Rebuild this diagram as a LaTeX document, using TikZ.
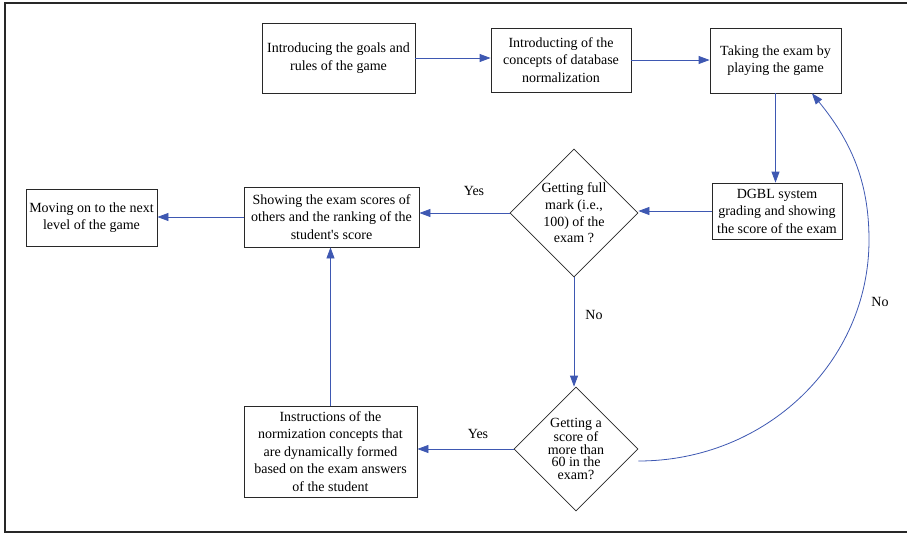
\documentclass[tikz,border=0pt]{standalone}
\usepackage{fontspec}
\setmainfont{Liberation Serif}
\usetikzlibrary{shapes.geometric,arrows.meta,calc}
\definecolor{flowblue}{RGB}{62,88,178}
\definecolor{boxgray}{RGB}{40,40,40}
\begin{document}
\begin{tikzpicture}[x=1pt,y=-1pt,
  every node/.style={font=\fontsize{14}{17.5}\selectfont},
  stepbox/.style={draw=boxgray,line width=0.8pt,inner sep=0pt,align=center,fill=white},
  decision/.style={draw=boxgray,line width=0.8pt,diamond,aspect=1,inner sep=0pt,align=center},
  flow/.style={draw=flowblue,line width=0.8pt,-{Triangle[length=11pt,width=8pt]}},
  lbl/.style={inner sep=0pt}]
\useasboundingbox (0,0) rectangle (907,533);
\draw[line width=2pt,boxgray] (907,3) -- (5,3) -- (5,532) -- (907,532);

\node[stepbox,minimum width=153pt,minimum height=70pt] (b1) at (338.5,58) {Introducing the goals and\\rules of the game};
\node[stepbox,minimum width=140pt,minimum height=64pt] (b2) at (561,60) {Introducting of the\\concepts of database\\normalization};
\node[stepbox,minimum width=131pt,minimum height=65pt] (b3) at (775.5,60.5) {Taking the exam by\\playing the game};
\node[stepbox,minimum width=130pt,minimum height=56pt] (b4) at (777,211) {DGBL system\\grading and showing\\the score of the exam};
\node[decision,minimum width=128pt,minimum height=128pt] (d1) at (574,213) {\raisebox{-6pt}{\shortstack{Getting full\\[1pt]mark (i.e.,\\[1pt]100) of the\\[1pt]exam ?}}};
\node[stepbox,minimum width=175pt,minimum height=60pt] (b5) at (331.5,217) {Showing the exam scores of\\others and the ranking of the\\student\textquotesingle s score};
\node[stepbox,minimum width=131pt,minimum height=57pt] (b6) at (91.5,217.5) {Moving on to the next\\level of the game};
\node[stepbox,minimum width=173pt,minimum height=91pt] (b7) at (330.5,451.5) {Instructions of the\\normization concepts that\\are dynamically formed\\based on the exam answers\\of the student};
\node[decision,minimum width=124pt,minimum height=124pt,font=\fontsize{14}{12.5}\selectfont] (d2) at (576,449) {Getting a\\score of\\more than\\60 in the\\exam?};

\coordinate (cs) at ($(d2.east)+(0,12)$);
\coordinate (ce) at ($(b3.south)+(36.5,0)$);

\draw[flow] (b1.east) -- (b1.east -| b2.west);
\draw[flow] (b2.east) -- (b2.east -| b3.west);
\draw[flow] (b3.south) -- (b3.south |- b4.north);
\draw[flow] (b4.west) -- (b4.west -| d1.east);
\draw[flow] (d1.west) -- (d1.west -| b5.east);
\draw[flow] (b5.west) -- (b5.west -| b6.east);
\draw[flow] (d1.south) -- (d1.south |- d2.north);
\draw[flow] (d2.west) -- (d2.west -| b7.east);
\draw[flow] (b7.north) -- (b7.north |- b5.south);
\draw[flow] (cs) .. controls (766,461) and (869,362) .. (869,240)
                 .. controls (869,180) and (850,140) .. (ce);

\node[lbl] (yes1) at (474,191) {Yes};
\node[lbl] (no1) at (594,315) {No};
\node[lbl] (yes2) at (478,434) {Yes};
\node[lbl] (no2) at (880,302) {No};
\end{tikzpicture}
\end{document}
